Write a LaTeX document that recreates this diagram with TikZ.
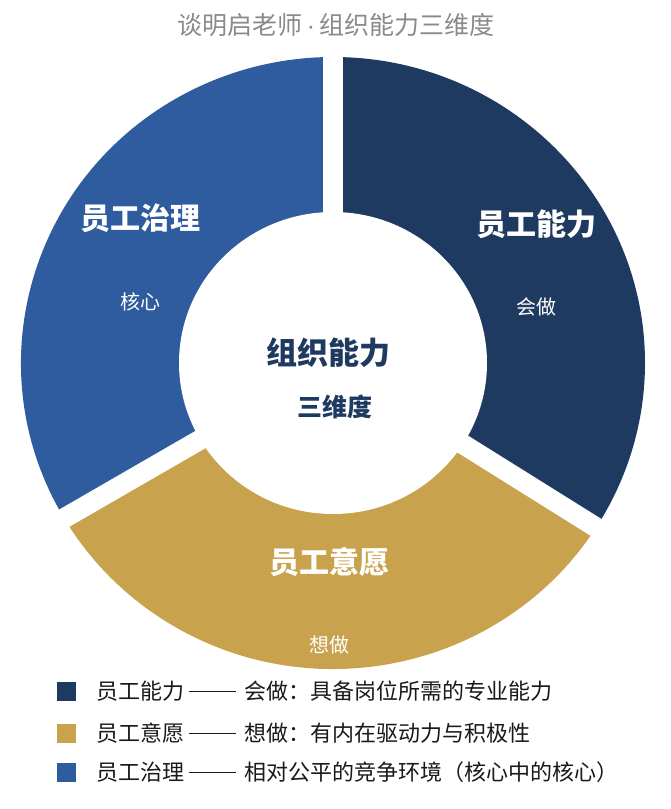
\documentclass[tikz,border=0pt]{standalone}
\usepackage{fontspec}
\setmainfont{Noto Sans CJK SC}
\newfontfamily\cjk{Noto Sans CJK SC}
\newfontfamily\latinf{Liberation Sans}
\usetikzlibrary{calc}
\definecolor{navyc}{HTML}{1F3A60}
\definecolor{bluec}{HTML}{2E5C9E}
\definecolor{goldc}{HTML}{C9A24E}
\definecolor{titlec}{HTML}{8A8A8A}
\definecolor{legc}{HTML}{1A1A1A}
\newcommand{\dashsep}{\hspace{5pt}\raisebox{7.4pt}{\rule{47pt}{1.2pt}}\hspace{8pt}}
\tikzset{
  seglabel/.style={text=white, font=\cjk\bfseries\fontsize{30}{34}\selectfont, inner sep=0pt},
  subl/.style={text=white, font=\cjk\fontsize{20}{24}\selectfont, inner sep=0pt},
  keysq/.style={minimum size=19pt, inner sep=0pt, draw=none},
  legtext/.style={anchor=west, text=legc, font=\cjk\fontsize{22}{26}\selectfont, inner sep=0pt},
  gapline/.style={white, line width=20pt}
}
\begin{document}
\begin{tikzpicture}[x=1pt,y=1pt]
\fill[white] (0,0) rectangle (671,-809);
\useasboundingbox (0,0) rectangle (671,-809);
\coordinate (C) at (333,-363);
% segments
\fill[navyc] (C) -- ++(90:312 and 306) arc[start angle=90, end angle=-32, x radius=312, y radius=306] -- cycle;
\fill[goldc] (C) -- ++(-32:312 and 306) arc[start angle=-32, end angle=-150, x radius=312, y radius=306] -- cycle;
\fill[bluec] (C) -- ++(210:312 and 306) arc[start angle=210, end angle=90, x radius=312, y radius=306] -- cycle;
% gaps
\draw[gapline] (C) -- ++(90:340);
\draw[gapline] (C) -- ++(-32:340);
\draw[gapline] (C) -- ++(210:340);
\fill[white] (C) ellipse[x radius=154, y radius=151];
% title
\node[text=titlec, font=\cjk\fontsize{25}{29}\selectfont, inner sep=0pt] (title) at (336,-25) {谈明启老师\hspace{4pt}{\latinf ·}\hspace{4pt}组织能力三维度};
% center
\node[text=navyc, font=\cjk\bfseries\fontsize{31}{35}\selectfont, inner sep=0pt] (c1) at (328,-353) {组织能力};
\node[text=navyc, font=\cjk\bfseries\fontsize{25}{29}\selectfont, inner sep=0pt] (c2) at (335,-407) {三维度};
% segment labels
\node[seglabel] (l1) at (536,-224) {员工能力};
\node[subl] (s1) at (536,-307) {会做};
\node[seglabel] (l2) at (329,-562) {员工意愿};
\node[subl] (s2) at (329,-645) {想做};
\node[seglabel] (l3) at (140,-218) {员工治理};
\node[subl] (s3) at (140,-302) {核心};
% legend
\node[keysq, fill=navyc] (k1) at (66.5,-691) {};
\node[keysq, fill=goldc] (k2) at (66.5,-733) {};
\node[keysq, fill=bluec] (k3) at (66.5,-772) {};
\node[legtext] (t1) at (96,-691) {员工能力\dashsep 会做：具备岗位所需的专业能力};
\node[legtext] (t2) at (96,-733) {员工意愿\dashsep 想做：有内在驱动力与积极性};
\node[legtext] (t3) at (96,-772) {员工治理\dashsep 相对公平的竞争环境（核心中的核心）};
\end{tikzpicture}
\end{document}
